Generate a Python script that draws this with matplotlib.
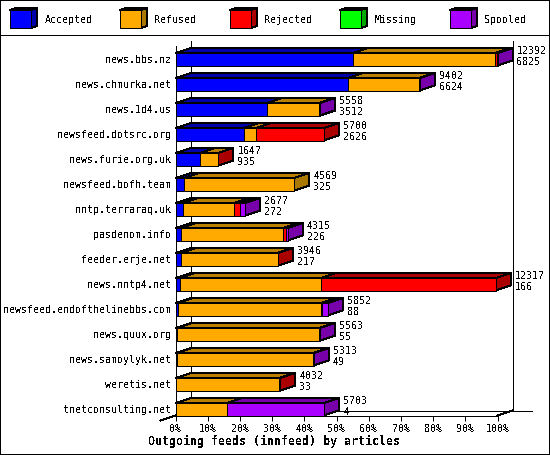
import matplotlib
matplotlib.use('Agg')
matplotlib.rcParams['text.antialiased'] = False
matplotlib.rcParams['font.family'] = 'DejaVu Sans Mono'
import matplotlib.pyplot as plt
from matplotlib.patches import Polygon, Rectangle
from matplotlib.lines import Line2D
from matplotlib.transforms import Affine2D

# chart data, widths are in percent of the x axis
hosts = ['news.bbs.nz', 'news.chmurka.net', 'news.1d4.us', 'newsfeed.dotsrc.org',
         'news.furie.org.uk', 'newsfeed.bofh.team', 'nntp.terraraq.uk', 'pasdenom.info',
         'feeder.erje.net', 'news.nntp4.net', 'newsfeed.endofthelinebbs.com',
         'news.quux.org', 'news.samoylyk.net', 'weretis.net', 'tnetconsulting.net']
articles = [12392, 9402, 5558, 5700, 1647, 4569, 2677, 4315, 3946, 12317, 5852, 5563, 5313, 4032, 5703]
accepted_n = [6825, 6624, 3512, 2626, 935, 325, 272, 226, 217, 166, 88, 55, 49, 33, 4]

accepted = [55.1, 53.45, 28.3, 21.2, 7.5, 2.6, 2.2, 1.8, 1.75, 1.35, 0.7, 0.45, 0.4, 0.25, 0.05]
refused = [44.2, 22.2, 16.3, 3.8, 5.6, 34.27, 16.0, 31.7, 29.9, 43.85, 44.6, 44.2, 42.3, 32.0, 16.0]
rejected = [0.4, 0, 0, 21.0, 0.2, 0, 1.8, 0.9, 0.2, 54.2, 0.1, 0, 0, 0.25, 0]
missing = [0] * 15
spooled = [0.3, 0.2, 0.25, 0, 0, 0, 1.6, 0.4, 0, 0.0, 1.9, 0.25, 0.17, 0, 30.0]

series = ['Accepted', 'Refused', 'Rejected', 'Missing', 'Spooled']
widths = [accepted, refused, rejected, missing, spooled]
front_col = ['#0000ff', '#ffaa00', '#ff0000', '#00ff00', '#aa00ff']
top_col = ['#0000aa', '#bb8000', '#aa0000', '#00aa00', '#7700aa']
side_col = ['#0000aa', '#aa7700', '#aa0000', '#00aa00', '#7700aa']

W, H = 550, 455
fig = plt.figure(figsize=(W / 100, H / 100), dpi=100, facecolor='white')
px = Affine2D().scale(1, -1).translate(0, H)   # picture pixels, origin top left

# plot area: 0-100% is 322px wide, 15 rows of 25px
ax = fig.add_axes([175.6 / W, 1 - 415.5 / H, 322 / W, 375 / H])
ax.set_xlim(0, 100)
ax.set_ylim(15, 0)
ax.patch.set_visible(False)
DX = 15 * 100 / 322.0   # depth of the 3d effect in data units
DY = 5 / 25.0
LW = 0.72


def poly(points, color, z=3):
    ax.add_patch(Polygon(points, closed=True, facecolor=color, edgecolor='black', lw=LW,
                         antialiased=False, clip_on=False, zorder=z))


for row in range(len(hosts)):
    y0, y1 = row + 0.5, row + 1.0
    left = 0
    last = 0
    for s in range(len(series)):
        w = widths[s][row]
        if w <= 0:
            continue
        poly([(left, y0), (left + w, y0), (left + w + DX, y0 - DY), (left + DX, y0 - DY)], top_col[s])
        ax.barh(y0 + 0.25, w, height=0.5, left=left, color=front_col[s], edgecolor='black',
                linewidth=LW, antialiased=False, clip_on=False, zorder=4)
        left += w
        last = s
    poly([(left, y0), (left + DX, y0 - DY), (left + DX, y1 - DY), (left, y1)], side_col[last])
    ax.text(left + DX + 1.3, row + 0.41, str(articles[row]), fontsize=7.2, va='center', ha='left')
    ax.text(left + DX + 1.3, row + 0.85, str(accepted_n[row]), fontsize=7.2, va='center', ha='left')

# axes frame with the floor and back wall
for sp in ['top', 'right', 'left']:
    ax.spines[sp].set_visible(False)
ax.spines['bottom'].set_linewidth(LW)
ax.spines['bottom'].set_antialiased(False)
ax.set_xticks(range(0, 101, 10))
ax.set_xticklabels(['%d%%' % v for v in range(0, 101, 10)], fontsize=7.2)
ax.tick_params(axis='x', length=3.6, width=LW, pad=2.6)
ax.set_yticks([r + 0.75 for r in range(len(hosts))])
ax.set_yticklabels(hosts, fontsize=7.2)
ax.tick_params(axis='y', length=0, pad=3.2)
for x, y in [([0, 0], [0.2, 15]), ([DX, DX], [0, 14.8]), ([100 + DX, 100 + DX], [0, 14.8]),
             ([DX, 100 + DX + 5.9], [14.8, 14.8]), ([-DX, DX], [15.2, 14.8]),
             ([100, 100 + DX], [15, 14.8])]:
    ax.add_line(Line2D(x, y, color='black', lw=LW, antialiased=False, clip_on=False, zorder=1))

# picture border and the legend strip
fig.add_artist(Rectangle((0, 0), W - 1, H - 1, transform=px, fill=False, ec='black', lw=LW, antialiased=False))
fig.add_artist(Line2D([0, W], [35, 35], transform=px, color='black', lw=LW, antialiased=False))
for s in range(len(series)):
    x = 10 + 110 * s
    fig.add_artist(Polygon([(x, 10), (x + 6, 8), (x + 27, 8), (x + 21, 10)], transform=px,
                           fc=top_col[s], ec='black', lw=LW, antialiased=False))
    fig.add_artist(Polygon([(x + 21, 10), (x + 27, 8), (x + 27, 26), (x + 21, 28)], transform=px,
                           fc=side_col[s], ec='black', lw=LW, antialiased=False))
    fig.add_artist(Rectangle((x, 10), 21, 18, transform=px, fc=front_col[s], ec='black', lw=LW, antialiased=False))
    fig.text(x + 34.5, 20, series[s], transform=px, fontsize=7.2, va='center', ha='left')

fig.text(274, 441, 'Outgoing feeds (innfeed) by articles', transform=px, fontsize=8.4,
         fontweight='bold', ha='center', va='center')

fig.savefig('out.png', dpi=100, facecolor='white')
